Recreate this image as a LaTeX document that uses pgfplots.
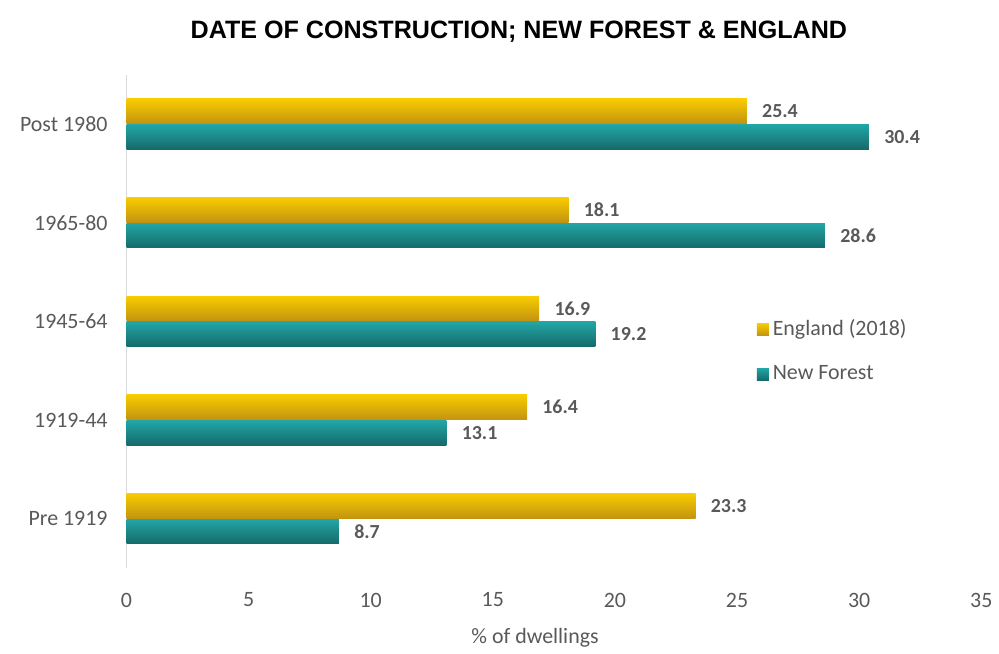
\documentclass[border=0pt]{standalone}
\usepackage{pgfplots}
\pgfplotsset{compat=1.18}
\usepackage{fontspec}
\setmainfont{Carlito}
\newfontfamily\titlefont{Liberation Sans}
\definecolor{txtgray}{HTML}{595959}
\definecolor{axgray}{HTML}{D9D9D9}
\definecolor{yTop}{HTML}{F8CC00}
\definecolor{yMid}{HTML}{FFE81E}
\definecolor{yBot}{HTML}{C39410}
\definecolor{tTop}{HTML}{22A6A6}
\definecolor{tMid}{HTML}{3ACACA}
\definecolor{tBot}{HTML}{166A6A}
\pgfplotsset{
  engbar/.style={draw=none, top color=yTop, middle color=yMid, bottom color=yBot, bar shift=0.13},
  nfbar/.style={draw=none, top color=tTop, middle color=tMid, bottom color=tBot, bar shift=-0.13},
}
\begin{document}
\begin{tikzpicture}
\begin{axis}[
  name=ax,
  scale only axis,
  width=429pt, height=247.5pt,
  xbar,
  xmin=0, xmax=35,
  ymin=-0.5, ymax=4.5,
  xtick={0,5,...,35},
  ytick={0,1,2,3,4},
  yticklabels={Pre 1919,1919-44,1945-64,1965-80,Post 1980},
  major tick length=0pt,
  axis x line*=bottom,
  axis y line*=left,
  x axis line style={draw=none},
  y axis line style={draw=axgray,-},
  /pgf/number format/assume math mode=true,
  ticklabel style={font=\fontsize{11}{13}\selectfont, text=txtgray},
  xticklabel style={yshift=-9pt},
  yticklabel style={xshift=-6pt},
  bar width=0.25,
  title={\titlefont\bfseries DATE OF CONSTRUCTION; NEW FOREST \& ENGLAND},
  title style={at={(0.459,1)}, anchor=center, yshift=15.5pt, font=\fontsize{12.6}{15}\selectfont, text=black},
  xlabel={\% of dwellings},
  xlabel style={at={(axis description cs:0.478,0)}, anchor=center, yshift=-35pt, font=\fontsize{11}{13}\selectfont, text=txtgray},
  nodes near coords={\pgfmathprintnumber[fixed,fixed zerofill,precision=1]{\pgfplotspointmeta}},
  nodes near coords style={font=\fontsize{10}{12}\selectfont\bfseries, text=txtgray, anchor=west, inner sep=0pt, xshift=7.5pt},
  legend style={at={(0.73,0.52)}, anchor=north west, draw=none, fill=none,
    font=\fontsize{11}{13}\selectfont, text=txtgray, row sep=9.5pt,
    legend cell align=left},
  legend image code/.code={\path[#1,draw=none] (0pt,-3pt) rectangle (6pt,3pt);},
]
% England (2018)
\addplot[engbar] coordinates {(25.4,4)};
\addlegendentry{England (2018)}
\addplot[engbar, forget plot] coordinates {(18.1,3)};
\addplot[engbar, forget plot] coordinates {(16.9,2)};
\addplot[engbar, forget plot] coordinates {(16.4,1)};
\addplot[engbar, forget plot] coordinates {(23.3,0)};
% New Forest
\addplot[nfbar] coordinates {(30.4,4)};
\addlegendentry{New Forest}
\addplot[nfbar, forget plot] coordinates {(28.6,3)};
\addplot[nfbar, forget plot] coordinates {(19.2,2)};
\addplot[nfbar, forget plot] coordinates {(13.1,1)};
\addplot[nfbar, forget plot] coordinates {(8.7,0)};
\end{axis}
\path (ax.south west) ++(-63.5pt,-39.5pt) rectangle ++(499.5pt,324.5pt);
\end{tikzpicture}
\end{document}
